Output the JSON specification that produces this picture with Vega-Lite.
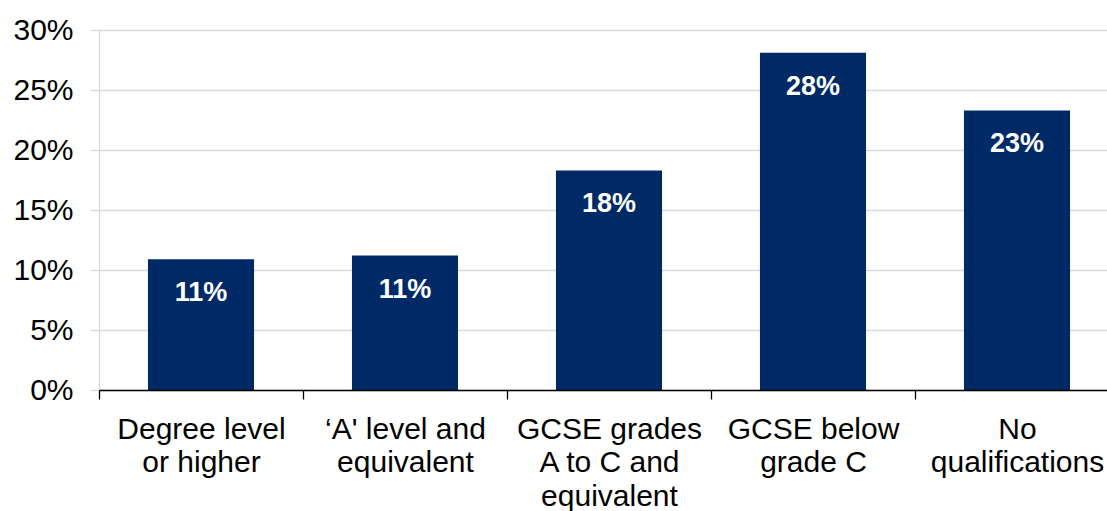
{
  "$schema": "https://vega.github.io/schema/vega-lite/v6.json",
  "width": 1008,
  "height": 360,
  "autosize": {"type": "none"},
  "padding": {"left": 99, "top": 30, "right": 0, "bottom": 121},
  "background": "white",
  "config": {"view": {"stroke": null}},
  "data": {
    "values": [
      {"qualification": "Degree level or higher", "share": 0.109},
      {"qualification": "‘A' level and equivalent", "share": 0.112},
      {"qualification": "GCSE grades A to C and equivalent", "share": 0.183},
      {"qualification": "GCSE below grade C", "share": 0.281},
      {"qualification": "No qualifications", "share": 0.233}
    ]
  },
  "encoding": {
    "x": {
      "field": "qualification",
      "type": "nominal",
      "sort": null,
      "scale": {"range": [0, 1020], "paddingInner": 0.48, "paddingOuter": 0.24},
      "axis": {
        "title": null,
        "labelAngle": 0,
        "labelFont": "Liberation Sans",
        "labelFontSize": 30,
        "labelColor": "black",
        "labelPadding": 15,
        "labelLineHeight": 33.5,
        "labelBaseline": "top",
        "labelLimit": 400,
        "labelOverlap": false,
        "labelExpr": "datum.value == 'Degree level or higher' ? ['Degree level', 'or higher'] : datum.value == '‘A\\' level and equivalent' ? ['‘A\\' level  and', 'equivalent'] : datum.value == 'GCSE grades A to C and equivalent' ? ['GCSE grades', 'A to C and', 'equivalent'] : datum.value == 'GCSE below grade C' ? ['GCSE below', 'grade C'] : datum.value == 'No qualifications' ? ['No', 'qualifications'] : ''",
        "domainColor": "black",
        "domainWidth": 1.3,
        "tickColor": "black",
        "tickWidth": 1.3,
        "tickSize": 9,
        "tickOffset": -102,
        "labelOffset": 102,
        "grid": false,
        "zindex": 1
      }
    },
    "y": {
      "field": "share",
      "type": "quantitative",
      "scale": {"domain": [0, 0.3]},
      "axis": {
        "title": null,
        "values": [0, 0.05, 0.1, 0.15, 0.2, 0.25, 0.3],
        "format": ".0%",
        "labelFont": "Liberation Sans",
        "labelFontSize": 30,
        "labelColor": "black",
        "labelPadding": 17,
        "domainColor": "#d9d9d9",
        "domainWidth": 1.3,
        "tickColor": "#d9d9d9",
        "tickWidth": 1.3,
        "tickSize": 9,
        "grid": true,
        "gridColor": "#d9d9d9",
        "gridWidth": 1.3
      }
    }
  },
  "layer": [
    {"mark": {"type": "bar", "color": "#002a66"}},
    {
      "mark": {
        "type": "text",
        "color": "white",
        "font": "Liberation Sans",
        "fontWeight": "bold",
        "fontSize": 27,
        "baseline": "alphabetic",
        "dy": 42
      },
      "encoding": {"text": {"field": "share", "format": ".0%"}}
    }
  ]
}
